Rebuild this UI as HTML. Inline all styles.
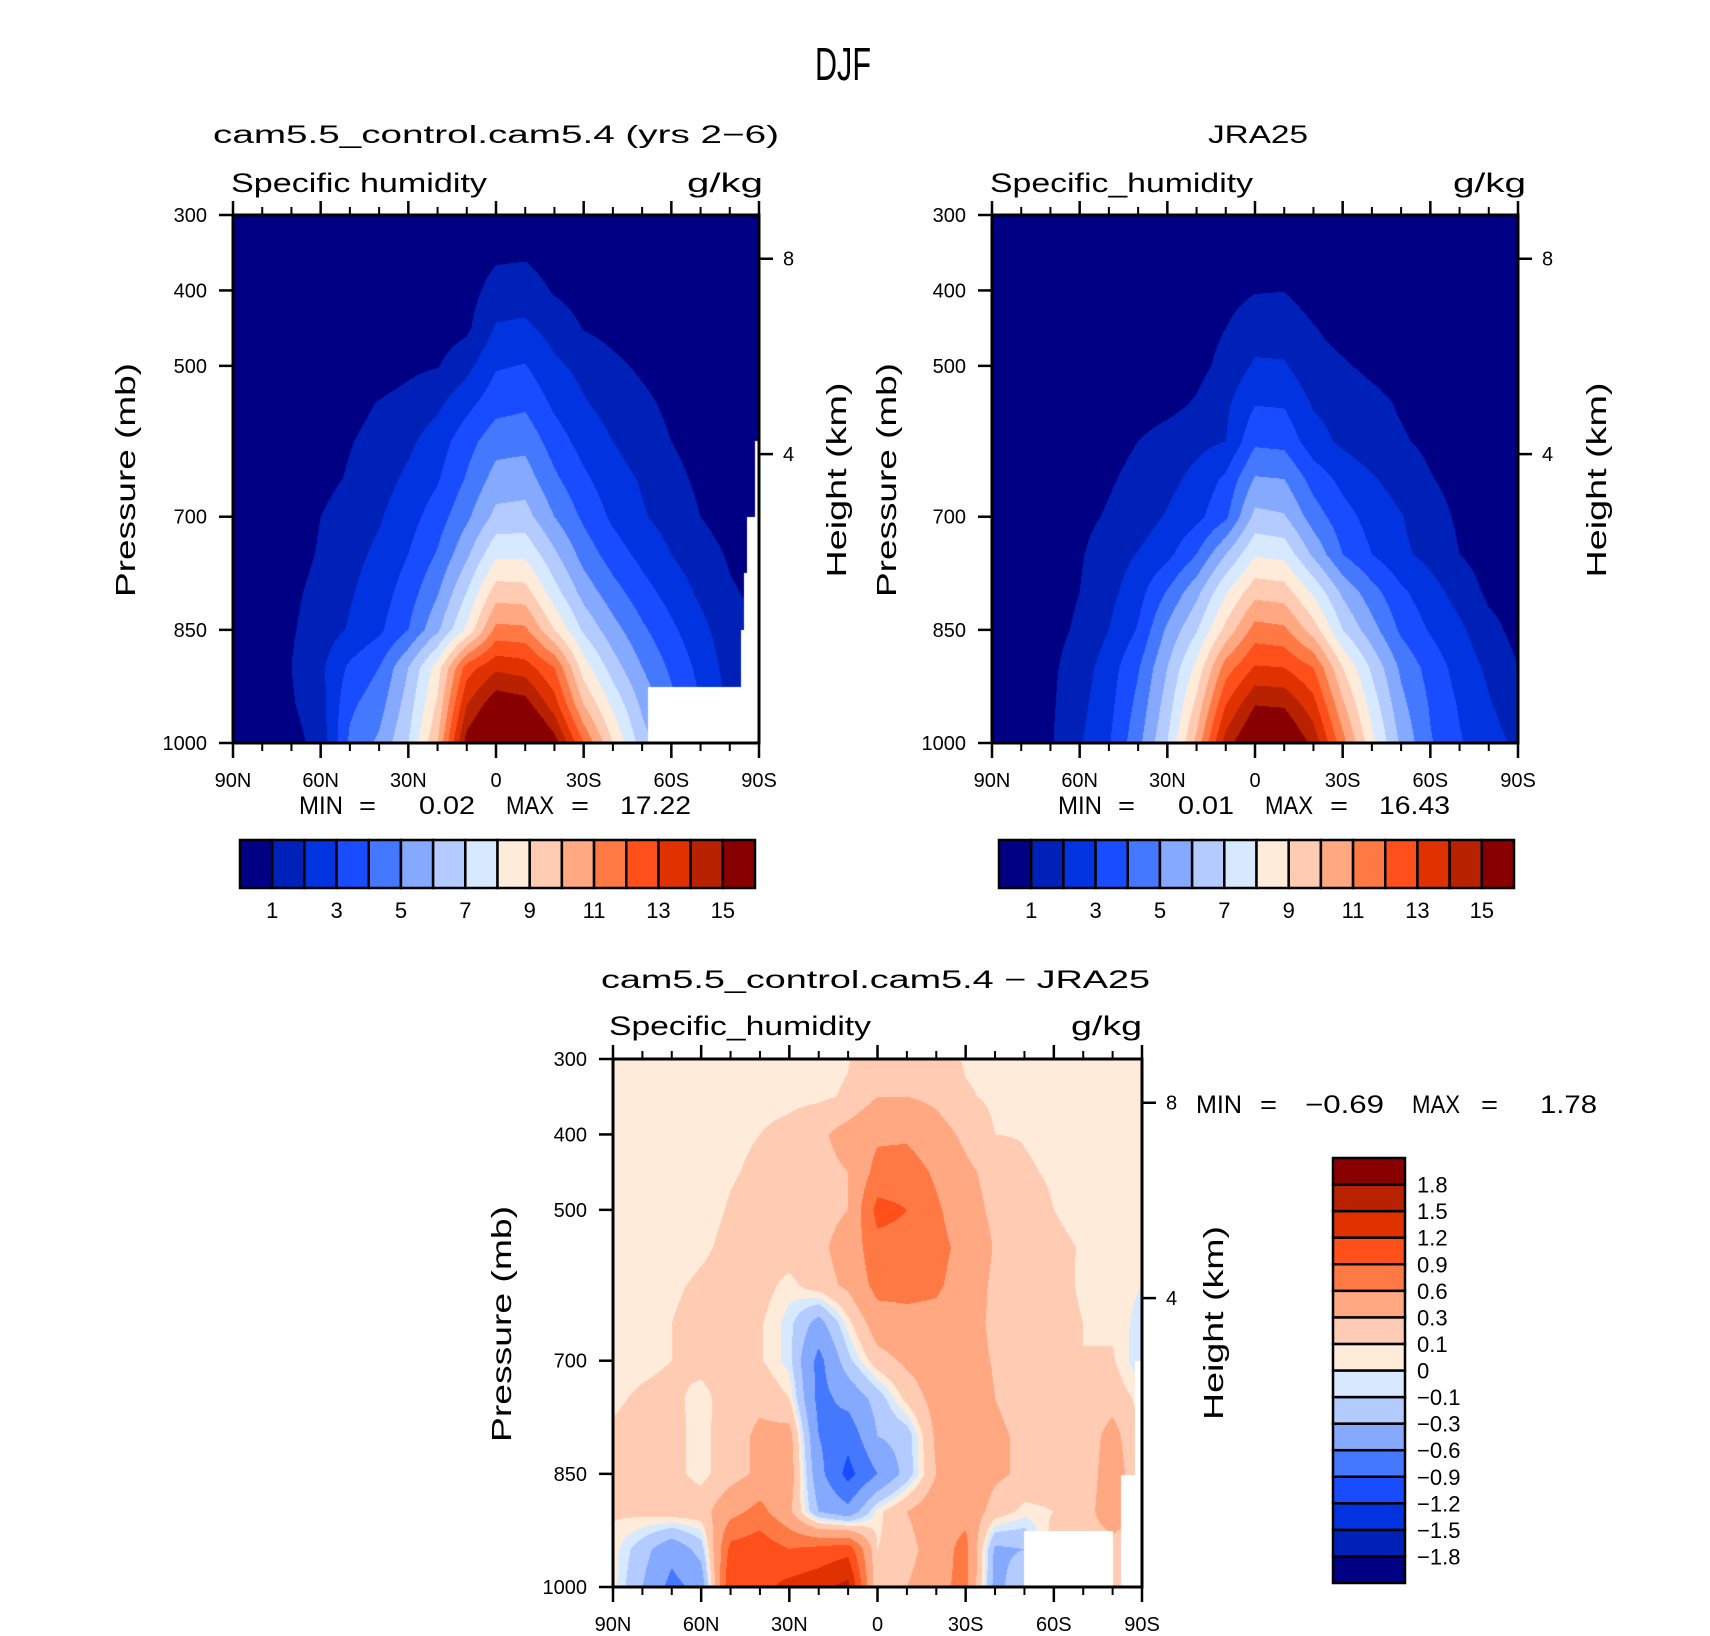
<!DOCTYPE html>
<html><head><meta charset="utf-8">
<style>
html,body{margin:0;padding:0;background:#fff;}
#root{position:relative;width:1710px;height:1636px;overflow:hidden;background:#fff;}
canvas{position:absolute;}
svg{position:absolute;left:0;top:0;}
text{font-family:"Liberation Sans",sans-serif;fill:#000;}
</style></head>
<body>
<div id="root">
<canvas id="c1" style="left:233px;top:215px" width="526" height="528"></canvas>
<canvas id="c2" style="left:992px;top:215px" width="526" height="528"></canvas>
<canvas id="c3" style="left:613px;top:1059px" width="529" height="528"></canvas>
<svg id="ov" width="1710" height="1636">
<text x="815" y="80" font-size="46" textLength="56" lengthAdjust="spacingAndGlyphs">DJF</text>
<text x="213" y="143" font-size="25" textLength="566" lengthAdjust="spacingAndGlyphs">cam5.5_control.cam5.4 (yrs 2−6)</text>
<text x="231" y="192" font-size="27" textLength="256" lengthAdjust="spacingAndGlyphs">Specific humidity</text>
<text x="687" y="192" font-size="27" textLength="76" lengthAdjust="spacingAndGlyphs">g/kg</text>
<text x="1208" y="143" font-size="25" textLength="100" lengthAdjust="spacingAndGlyphs">JRA25</text>
<text x="990" y="192" font-size="27" textLength="263" lengthAdjust="spacingAndGlyphs">Specific_humidity</text>
<text x="1453" y="192" font-size="27" textLength="73" lengthAdjust="spacingAndGlyphs">g/kg</text>
<g font-size="25">
<text x="299" y="814" textLength="44" lengthAdjust="spacingAndGlyphs">MIN</text>
<text x="359" y="814" textLength="17" lengthAdjust="spacingAndGlyphs">=</text>
<text x="419" y="814" textLength="56" lengthAdjust="spacingAndGlyphs">0.02</text>
<text x="506" y="814" textLength="48" lengthAdjust="spacingAndGlyphs">MAX</text>
<text x="571" y="814" textLength="18" lengthAdjust="spacingAndGlyphs">=</text>
<text x="620" y="814" textLength="71" lengthAdjust="spacingAndGlyphs">17.22</text>
</g>
<g font-size="25">
<text x="1058" y="814" textLength="44" lengthAdjust="spacingAndGlyphs">MIN</text>
<text x="1118" y="814" textLength="17" lengthAdjust="spacingAndGlyphs">=</text>
<text x="1178" y="814" textLength="56" lengthAdjust="spacingAndGlyphs">0.01</text>
<text x="1265" y="814" textLength="48" lengthAdjust="spacingAndGlyphs">MAX</text>
<text x="1330" y="814" textLength="18" lengthAdjust="spacingAndGlyphs">=</text>
<text x="1379" y="814" textLength="71" lengthAdjust="spacingAndGlyphs">16.43</text>
</g>
<text x="601" y="988" font-size="25" textLength="549" lengthAdjust="spacingAndGlyphs">cam5.5_control.cam5.4 − JRA25</text>
<text x="609" y="1035" font-size="27" textLength="262" lengthAdjust="spacingAndGlyphs">Specific_humidity</text>
<text x="1071" y="1035" font-size="27" textLength="71" lengthAdjust="spacingAndGlyphs">g/kg</text>
<g font-size="25">
<text x="1196" y="1113" textLength="46" lengthAdjust="spacingAndGlyphs">MIN</text>
<text x="1260" y="1113" textLength="17" lengthAdjust="spacingAndGlyphs">=</text>
<text x="1305" y="1113" textLength="79" lengthAdjust="spacingAndGlyphs">−0.69</text>
<text x="1412" y="1113" textLength="48" lengthAdjust="spacingAndGlyphs">MAX</text>
<text x="1481" y="1113" textLength="17" lengthAdjust="spacingAndGlyphs">=</text>
<text x="1540" y="1113" textLength="57" lengthAdjust="spacingAndGlyphs">1.78</text>
</g>
<text transform="translate(135,480) rotate(-90)" text-anchor="middle" font-size="28" textLength="234" lengthAdjust="spacingAndGlyphs">Pressure (mb)</text>
<text transform="translate(846,480) rotate(-90)" text-anchor="middle" font-size="28" textLength="195" lengthAdjust="spacingAndGlyphs">Height (km)</text>
<text transform="translate(896,480) rotate(-90)" text-anchor="middle" font-size="28" textLength="234" lengthAdjust="spacingAndGlyphs">Pressure (mb)</text>
<text transform="translate(1606,480) rotate(-90)" text-anchor="middle" font-size="28" textLength="195" lengthAdjust="spacingAndGlyphs">Height (km)</text>
<text transform="translate(511,1324) rotate(-90)" text-anchor="middle" font-size="28" textLength="236" lengthAdjust="spacingAndGlyphs">Pressure (mb)</text>
<text transform="translate(1223,1323) rotate(-90)" text-anchor="middle" font-size="28" textLength="194" lengthAdjust="spacingAndGlyphs">Height (km)</text>
</svg>
</div>
<script>
// ---- data ----
const gridLats = [90,80,70,60,50,40,30,20,10,0,-10,-20,-30,-40,-50,-60,-70,-80,-90];
const gridPressures = [300,350,400,450,500,550,600,650,700,750,800,850,900,950,1000];
const modelQ = [
[.1,.1,.1,.1,.1,.1,.1,.15,.2,.3,.3,.25,.2,.15,.1,.1,.1,.1,.1],
[.1,.1,.1,.1,.1,.15,.2,.3,.4,.8,.85,.5,.35,.25,.15,.1,.1,.1,.1],
[.1,.1,.1,.1,.15,.2,.3,.35,.6,1.4,1.5,.9,.6,.4,.25,.15,.1,.1,.1],
[.1,.1,.1,.15,.2,.3,.4,.5,.8,2.1,2.2,1.6,.95,.7,.5,.3,.2,.1,.1],
[.1,.1,.1,.2,.35,.55,.8,.95,1.7,2.9,3.05,2.2,1.7,1.2,.85,.6,.4,.2,.1],
[.1,.1,.2,.4,.7,1.05,1.3,1.8,2.7,3.6,3.8,2.8,2.1,1.6,1.2,.8,.5,.3,.2],
[.1,.1,.3,.6,.95,1.3,1.8,2.5,3.6,4.6,4.7,3.5,2.6,2.0,1.5,1.0,.6,.4,.3],
[.1,.2,.4,.7,1.1,1.6,2.2,2.9,4.1,5.4,5.5,4.2,3.2,2.4,1.9,1.3,.8,.5,.3],
[.1,.2,.5,1.0,1.5,1.9,2.6,3.5,4.8,6.3,6.4,5.0,3.8,2.8,2.1,1.6,1.0,.6,.4],
[.1,.2,.6,1.1,1.7,2.2,3.0,4.1,5.8,7.8,7.8,6.2,4.6,3.5,2.7,2.0,1.4,.9,.6],
[.1,.3,.8,1.3,1.9,2.5,3.5,4.9,7.0,9.5,9.4,7.4,5.6,4.4,3.4,2.6,1.8,1.1,.8],
[.2,.4,.9,1.5,2.1,2.8,4.0,5.8,8.2,11.3,11.2,9.0,6.8,5.4,4.2,3.2,2.3,1.4,1.0],
[.2,.5,1.0,1.8,3.2,4.0,6.0,8.5,12.5,13.8,13.5,12.0,8.5,6.5,5.0,3.8,2.7,1.6,1.1],
[.2,.4,.9,1.6,3.8,4.6,6.5,9.2,14.0,15.8,15.5,13.5,10.0,7.8,5.8,4.3,3.0,1.8,1.2],
[.2,.3,.6,1.4,4.2,5.2,7.0,10.0,15.5,17.2,17.5,15.5,12.0,9.0,6.5,5.0,3.0,1.5,1.0]
];
const jraQ = [
[.1,.1,.1,.1,.1,.1,.1,.1,.15,.2,.2,.15,.1,.1,.1,.1,.1,.1,.1],
[.1,.1,.1,.1,.1,.1,.15,.2,.3,.5,.5,.35,.25,.2,.15,.1,.1,.1,.1],
[.1,.1,.1,.1,.15,.2,.3,.4,.7,.95,.98,.6,.45,.35,.25,.2,.1,.1,.1],
[.1,.1,.1,.15,.2,.3,.45,.6,1.0,1.5,1.5,1.05,.7,.55,.4,.3,.2,.1,.1],
[.1,.1,.15,.2,.3,.35,.5,.7,1.3,2.15,2.1,1.3,1.1,.8,.6,.45,.3,.2,.1],
[.1,.1,.2,.3,.4,.5,.7,1.1,1.8,2.95,2.9,1.9,1.6,1.25,.9,.6,.4,.2,.1],
[.1,.2,.3,.45,.7,1.0,1.4,1.7,2.0,3.8,3.7,2.4,1.8,1.4,1.1,.8,.5,.3,.2],
[.1,.2,.35,.6,.9,1.25,1.7,2.3,3.2,5.1,5.0,3.6,2.7,2.1,1.6,1.05,.7,.4,.2],
[.1,.2,.4,.75,1.1,1.5,2.1,2.7,3.8,6.3,6.1,4.5,3.4,2.6,2.05,1.4,.85,.5,.3],
[.1,.3,.55,.9,1.5,2.05,2.7,4.0,6.0,7.9,7.7,5.8,4.0,3.0,2.2,1.7,1.0,.6,.4],
[.2,.35,.65,1.0,1.7,2.6,4.1,5.7,7.9,9.65,9.5,7.8,5.8,4.4,3.2,2.4,1.6,.8,.6],
[.2,.4,.7,1.15,2.0,3.1,5.2,6.9,9.3,11.4,11.2,9.5,7.0,5.4,3.8,2.9,2.2,1.3,.7],
[.2,.45,.8,1.5,2.5,3.9,6.0,8.3,11.5,13.1,13.0,12.0,9.0,6.8,4.8,3.6,2.6,1.8,1.0],
[.25,.5,.85,1.7,2.7,4.3,6.5,9.3,13.0,15.0,14.9,13.4,10.2,7.6,5.3,3.9,2.9,2.1,1.4],
[.3,.5,.9,1.9,2.9,4.7,7.0,10.3,14.5,16.4,16.4,14.7,11.4,8.3,5.8,4.1,3.1,2.4,1.8]
];
const diffQ = [
[.05,.05,.05,.05,.05,.05,.05,.05,.09,.2,.25,.2,.08,.05,.05,.05,.05,.05,.05],
[.05,.05,.05,.05,.05,.05,.06,.07,.12,.3,.3,.25,.12,.07,.05,.05,.05,.05,.05],
[.05,.05,.05,.06,.08,.1,.15,.25,.4,.55,.55,.4,.25,.1,.09,.06,.05,.05,.05],
[.05,.05,.05,.06,.09,.12,.18,.22,.3,.7,.75,.55,.35,.22,.12,.08,.05,.05,.05],
[.05,.05,.05,.06,.11,.15,.18,.22,.3,1.0,.9,.65,.4,.25,.18,.1,.06,.05,.05],
[.05,.05,.05,.08,.13,.16,.2,.25,.4,.8,.8,.7,.5,.28,.2,.13,.09,.06,.05],
[.05,.06,.08,.12,.15,.17,.05,.2,.35,.7,.7,.65,.45,.25,.2,.15,.08,.06,0],
[.05,.07,.1,.15,.17,.12,-.05,-.4,.05,.45,.5,.5,.4,.25,.2,.15,.1,.07,-.05],
[.05,.07,.1,.15,.17,.12,-.05,-.7,-.15,.2,.35,.45,.4,.28,.2,.15,.1,.12,-.1],
[.08,.12,.14,.05,.18,.25,.1,-.7,-.5,-.2,.15,.4,.45,.3,.2,.18,.15,.2,.05],
[.12,.15,.15,.05,.2,.35,.4,-.6,-.8,-.3,-.2,.35,.5,.35,.25,.2,.15,.4,.05],
[.15,.15,.15,.05,.2,.35,.45,-.5,-1.0,-.6,-.2,.3,.5,.35,.25,.2,.15,.45,.1],
[.12,.15,.2,.2,.5,.7,.35,-.3,-.5,.05,.3,.5,.5,.2,.05,.1,.2,.45,.2],
[.05,-.2,-.5,-.2,1.0,1.1,.9,1.0,1.1,.1,.2,.45,.7,-.35,-.3,.2,.2,.2,.2],
[.05,-.3,-.7,-.5,1.2,1.1,1.3,1.4,1.6,.1,.3,.5,.7,-.4,-.1,.2,.2,.2,.2]
];
const qLevels = [1,2,3,4,5,6,7,8,9,10,11,12,13,14,15];
const qLevelLabels = ['1','2','3','4','5','6','7','8','9','10','11','12','13','14','15'];
const diffLevels = [-1.8,-1.5,-1.2,-0.9,-0.6,-0.3,-0.1,0,0.1,0.3,0.6,0.9,1.2,1.5,1.8];
const diffLevelLabels = ['−1.8','−1.5','−1.2','−0.9','−0.6','−0.3','−0.1','0','0.1','0.3','0.6','0.9','1.2','1.5','1.8'];
const latTicks = [90,60,30,0,-30,-60,-90];
const latTickLabels = ['90N','60N','30N','0','30S','60S','90S'];
const latMinorTicks = [80,70,50,40,20,10,-10,-20,-40,-50,-70,-80];
const pTicks = [300,400,500,700,850,1000];
const pTickLabels = ['300','400','500','700','850','1000'];
const heightTickP = [358,617];
const heightTickLabels = ['8','4'];
// missing-data regions [latFrom, latTo, pFrom]
const modelMissing = [[-52,-90,926],[-88.6,-90,600],[-86,-90,700],[-85,-90,775],[-84,-90,850]];
const diffMissing = [[-50,-80,926],[-83,-90,851],[-87.5,-90,700]];

const palette = ['#000084','#0021b8','#0233e0','#1a4cff','#4478ff','#85a9ff','#b4cbff','#d7e9ff',
                 '#ffebda','#ffcbb2','#ffa881','#ff7944','#ff4f1a','#e03200','#b82200','#880000'];
const NS = 'http://www.w3.org/2000/svg';
const ov = document.getElementById('ov');

function hex(c){return [parseInt(c.substr(1,2),16),parseInt(c.substr(3,2),16),parseInt(c.substr(5,2),16)];}
const pal = palette.map(hex);

function sample(grid, lat, p){
  let fi = (90-lat)/10, fj = (p-300)/50;
  let i0 = Math.min(Math.floor(fi), gridLats.length-2), j0 = Math.min(Math.floor(fj), gridPressures.length-2);
  let tx = fi-i0, ty = fj-j0;
  const a = grid[j0][i0], b = grid[j0][i0+1], c = grid[j0+1][i0], d = grid[j0+1][i0+1];
  return (a*(1-tx)+b*tx)*(1-ty) + (c*(1-tx)+d*tx)*ty;
}
function drawField(id, grid, levels, missing){
  const cv = document.getElementById(id), ctx = cv.getContext('2d');
  const W = cv.width, H = cv.height, img = ctx.createImageData(W,H);
  for(let y=0;y<H;y++){
    const p = 300 + (y+0.5)/H*700;
    for(let x=0;x<W;x++){
      const lat = 90 - (x+0.5)/W*180;
      const v = sample(grid, lat, p);
      let k = 0; while(k<levels.length && v>=levels[k]) k++;
      let col = pal[k];
      for(const m of missing){ if(lat<=m[0] && lat>=m[1] && p>=m[2]) { col=[255,255,255]; break; } }
      const o=(y*W+x)*4; img.data[o]=col[0]; img.data[o+1]=col[1]; img.data[o+2]=col[2]; img.data[o+3]=255;
    }
  }
  ctx.putImageData(img,0,0);
}
function line(x1,y1,x2,y2,w,name){
  const l = document.createElementNS(NS,'line');
  l.setAttribute('x1',x1); l.setAttribute('y1',y1); l.setAttribute('x2',x2); l.setAttribute('y2',y2);
  l.setAttribute('stroke','#000'); l.setAttribute('stroke-width',w);
  
  
  ov.appendChild(l); return l;
}
function label(x,y,s,size,anchor,name){
  const t = document.createElementNS(NS,'text');
  t.setAttribute('x',x); t.setAttribute('y',y); t.setAttribute('font-size',size);
  t.setAttribute('text-anchor',anchor); t.textContent = s;
  
  
  ov.appendChild(t); return t;
}
function drawAxes(x0,y0,w,h,prefix){
  const xs = lat => x0 + (90-lat)/180*w;
  const ys = p => y0 + (p-300)/700*h;
  latTicks.forEach((lat,i)=>{
    line(xs(lat),y0+h,xs(lat),y0+h+15,2.5,prefix+'-x-major-tick');
    line(xs(lat),y0,xs(lat),y0-14,2.5,prefix+'-x-top-major-tick');
    label(xs(lat),y0+h+44,latTickLabels[i],20,'middle',prefix+'-x-tick-label');
  });
  latMinorTicks.forEach(lat=>{
    line(xs(lat),y0+h,xs(lat),y0+h+8,2,prefix+'-x-minor-tick');
    line(xs(lat),y0,xs(lat),y0-8,2,prefix+'-x-top-minor-tick');
  });
  pTicks.forEach((p,i)=>{
    line(x0-14,ys(p),x0,ys(p),2.5,prefix+'-y-tick');
    label(x0-26,ys(p)+7,pTickLabels[i],20,'end',prefix+'-y-tick-label');
  });
  heightTickP.forEach((p,i)=>{
    line(x0+w,ys(p),x0+w+14,ys(p),2.5,prefix+'-height-tick');
    label(x0+w+24,ys(p)+7,heightTickLabels[i],20,'start',prefix+'-height-tick-label');
  });
  const r = document.createElementNS(NS,'rect');
  r.setAttribute('x',x0); r.setAttribute('y',y0); r.setAttribute('width',w); r.setAttribute('height',h);
  r.setAttribute('fill','none'); r.setAttribute('stroke','#000'); r.setAttribute('stroke-width',3);
  
  
  ov.appendChild(r);
}
function hColorbar(x0,y0,w,h,prefix){
  const n = palette.length, bw = w/n;
  for(let k=0;k<n;k++){
    const r = document.createElementNS(NS,'rect');
    r.setAttribute('x',x0+k*bw); r.setAttribute('y',y0); r.setAttribute('width',bw); r.setAttribute('height',h);
    r.setAttribute('fill',palette[k]); r.setAttribute('stroke','#000'); r.setAttribute('stroke-width',2.5);
    
    
    ov.appendChild(r);
  }
  qLevels.forEach((v,i)=>{
    if(i%2===0) label(x0+(i+1)*bw, y0+h+30, qLevelLabels[i], 22, 'middle', prefix+'-colorbar-label');
  });
}
function vColorbar(x0,y0,w,h,prefix){
  const n = palette.length, bh = h/n;
  for(let k=0;k<n;k++){
    const r = document.createElementNS(NS,'rect');
    r.setAttribute('x',x0); r.setAttribute('y',y0+(n-1-k)*bh); r.setAttribute('width',w); r.setAttribute('height',bh);
    r.setAttribute('fill',palette[k]); r.setAttribute('stroke','#000'); r.setAttribute('stroke-width',2.5);
    
    
    ov.appendChild(r);
  }
  diffLevels.forEach((v,i)=>{
    const yb = y0 + (n-1-i)*bh;
    label(x0+w+12, yb+8, diffLevelLabels[i], 22, 'start', prefix+'-colorbar-label');
  });
}
drawField('c1', modelQ, qLevels, modelMissing);
drawField('c2', jraQ, qLevels, []);
drawField('c3', diffQ, diffLevels, diffMissing);
drawAxes(233,215,526,528,'model');
drawAxes(992,215,526,528,'jra25');
drawAxes(613,1059,529,528,'difference');
hColorbar(240,840,515,48,'model');
hColorbar(999,840,515,48,'jra25');
vColorbar(1333,1158,72,425,'difference');
</script>
</body></html>
